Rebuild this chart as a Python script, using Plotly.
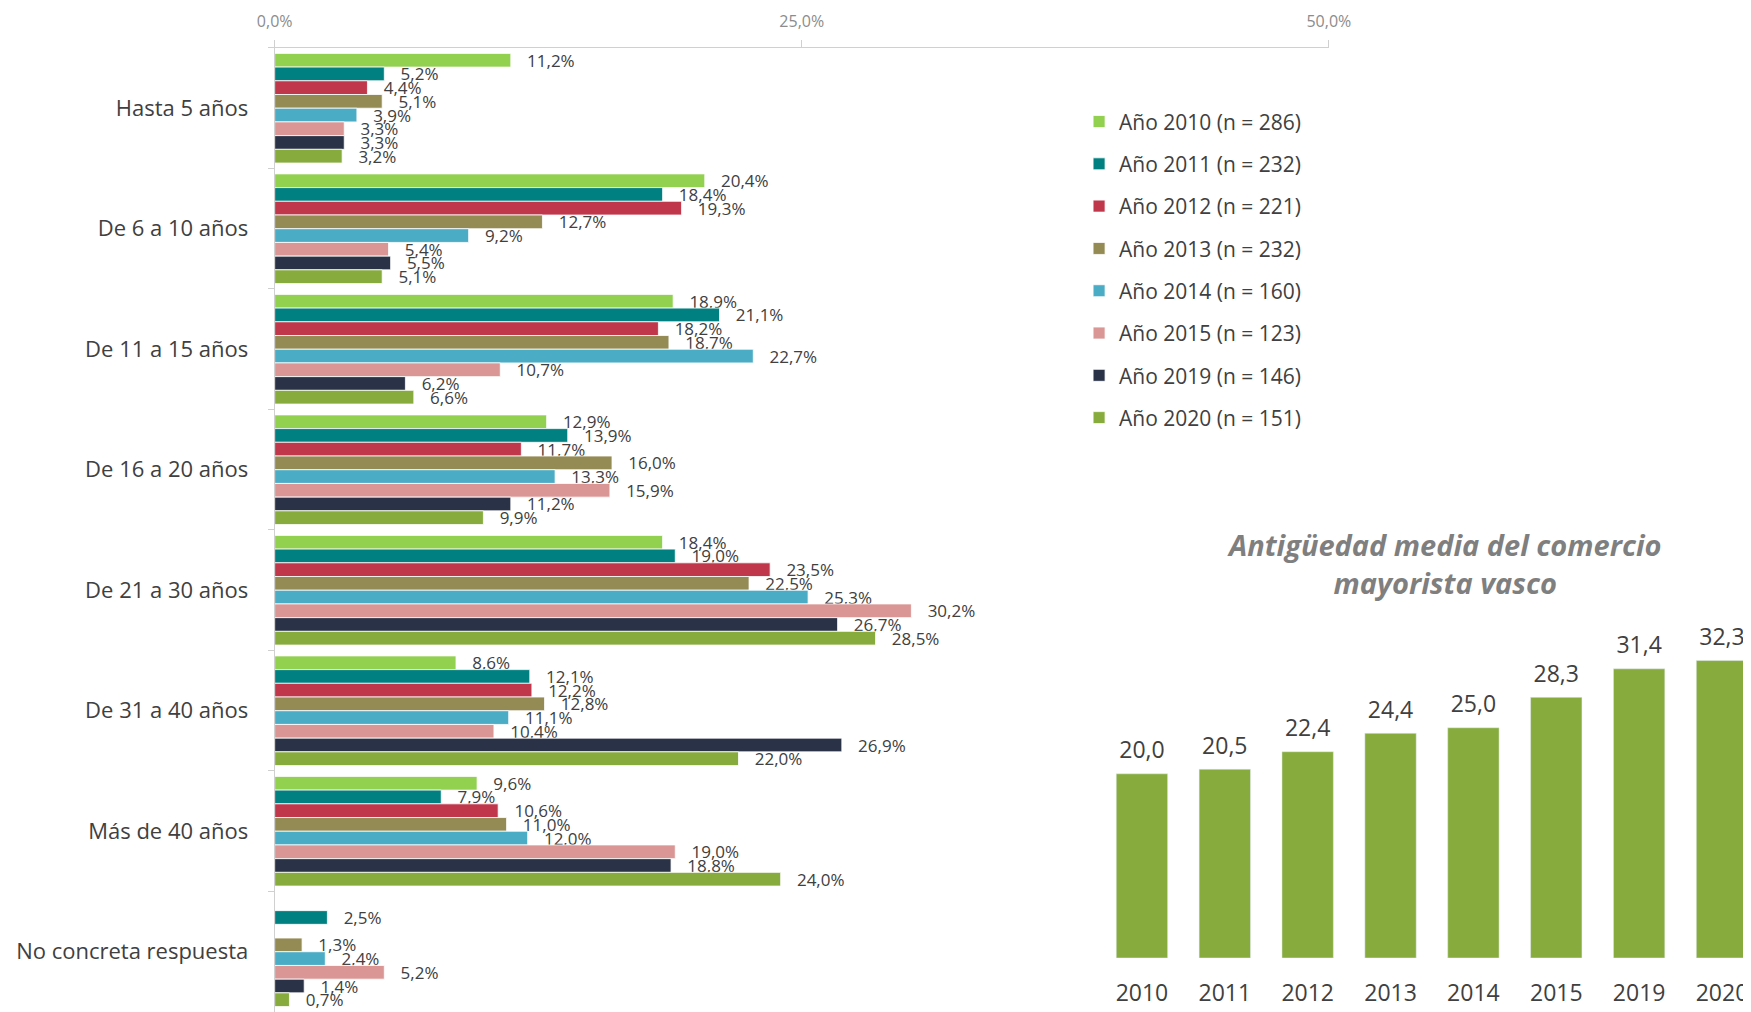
import plotly.graph_objects as go

categories = ["Hasta 5 años", "De 6 a 10 años", "De 11 a 15 años", "De 16 a 20 años",
              "De 21 a 30 años", "De 31 a 40 años", "Más de 40 años", "No concreta respuesta"]

series_names = ["Año 2010 (n = 286)", "Año 2011 (n = 232)", "Año 2012 (n = 221)",
                "Año 2013 (n = 232)", "Año 2014 (n = 160)", "Año 2015 (n = 123)",
                "Año 2019 (n = 146)", "Año 2020 (n = 151)"]

v2010 = [11.2, 20.4, 18.9, 12.9, 18.4, 8.6, 9.6, None]
v2011 = [5.2, 18.4, 21.1, 13.9, 19.0, 12.1, 7.9, 2.5]
v2012 = [4.4, 19.3, 18.2, 11.7, 23.5, 12.2, 10.6, None]
v2013 = [5.1, 12.7, 18.7, 16.0, 22.5, 12.8, 11.0, 1.3]
v2014 = [3.9, 9.2, 22.7, 13.3, 25.3, 11.1, 12.0, 2.4]
v2015 = [3.3, 5.4, 10.7, 15.9, 30.2, 10.4, 19.0, 5.2]
v2019 = [3.3, 5.5, 6.2, 11.2, 26.7, 26.9, 18.8, 1.4]
v2020 = [3.2, 5.1, 6.6, 9.9, 28.5, 22.0, 24.0, 0.7]

series_values = [v2010, v2011, v2012, v2013, v2014, v2015, v2019, v2020]
series_colors = ["#92D050", "#008080", "#C0364B", "#948A54", "#4BACC6", "#D99694", "#2A3247", "#87AC3D"]

years = ["2010", "2011", "2012", "2013", "2014", "2015", "2019", "2020"]
mean_age = [20.0, 20.5, 22.4, 24.4, 25.0, 28.3, 31.4, 32.3]

x_ticks = [0, 25, 50]
x_ticktext = [f"{v:.1f}%".replace(".", ",") for v in x_ticks]

FONT = "Open Sans, Noto Sans, sans-serif"
TXT = "#404040"

W, H = 1743, 1004

fig = go.Figure()

for name, vals, col in zip(series_names, series_values, series_colors):
    fig.add_trace(go.Bar(
        y=categories, x=vals, orientation="h", name=name,
        marker=dict(color=col, line=dict(color="white", width=0.8)),
        texttemplate="\u00a0\u00a0\u00a0%{x:.1f}%", textposition="outside",
        textfont=dict(size=17, color=TXT, family=FONT),
        constraintext="none", cliponaxis=False,
        legendgroup=name, hoverinfo="skip",
        xaxis="x", yaxis="y",
    ))

fig.add_trace(go.Bar(
    x=years, y=mean_age, marker=dict(color="#87AC3D"), width=0.62,
    texttemplate="<span style='font-size:23px'>%{y:.1f}</span><br>\u00a0",
    textposition="outside", textfont=dict(size=8, color=TXT, family=FONT),
    constraintext="none", cliponaxis=False, showlegend=False,
    xaxis="x2", yaxis="y2", hoverinfo="skip",
))

fig.update_layout(
    width=W, height=H,
    margin=dict(l=0, r=0, t=0, b=0),
    paper_bgcolor="white", plot_bgcolor="white",
    separators=",.",
    barmode="group", bargap=0.09, bargroupgap=0,
    font=dict(family=FONT, color=TXT),
    showlegend=True,
    legend=dict(
        x=0.6145, y=0.907, xanchor="left", yanchor="top",
        traceorder="grouped", tracegroupgap=12,
        font=dict(size=21, color=TXT, family=FONT),
        bgcolor="rgba(0,0,0,0)",
    ),
    xaxis=dict(
        domain=[0.1530, 0.7578], range=[0, 50], side="top",
        tickvals=x_ticks, ticktext=x_ticktext,
        showgrid=False, zeroline=False,
        showline=True, linecolor="#D0D0D0", linewidth=1.2,
        ticks="outside", ticklen=7, tickcolor="#D0D0D0",
        tickfont=dict(size=16, color="#8C8C8C", family=FONT),
        ticklabelstandoff=6,
        anchor="y", automargin=False,
    ),
    yaxis=dict(
        domain=[0.0, 0.9602], autorange="reversed", type="category",
        showgrid=False, zeroline=False,
        showline=True, linecolor="#D0D0D0", linewidth=1,
        ticks="outside", tickson="boundaries", ticklen=6, tickcolor="#D0D0D0",
        tickfont=dict(size=22, color=TXT, family=FONT),
        ticklabelstandoff=21,
        anchor="x", automargin=False,
    ),
    xaxis2=dict(
        domain=[0.6268, 1.0], range=[-0.5, 7.35], type="category",
        showgrid=False, zeroline=False, showline=False,
        ticks="outside", ticklen=14, tickcolor="rgba(0,0,0,0)",
        tickfont=dict(size=23, color=TXT, family=FONT),
        anchor="y2", automargin=False,
    ),
    yaxis2=dict(
        domain=[0.0538, 0.384], range=[0, 36],
        visible=False, showgrid=False, zeroline=False,
        anchor="x2",
    ),
)

fig.add_annotation(
    text="<b><i>Antigüedad media del comercio<br>mayorista vasco</i></b>",
    xref="paper", yref="paper", x=0.8239, y=0.4472,
    xanchor="center", yanchor="middle", showarrow=False,
    font=dict(size=29, color="#7F7F7F", family=FONT),
)

fig.write_html("out.html")
